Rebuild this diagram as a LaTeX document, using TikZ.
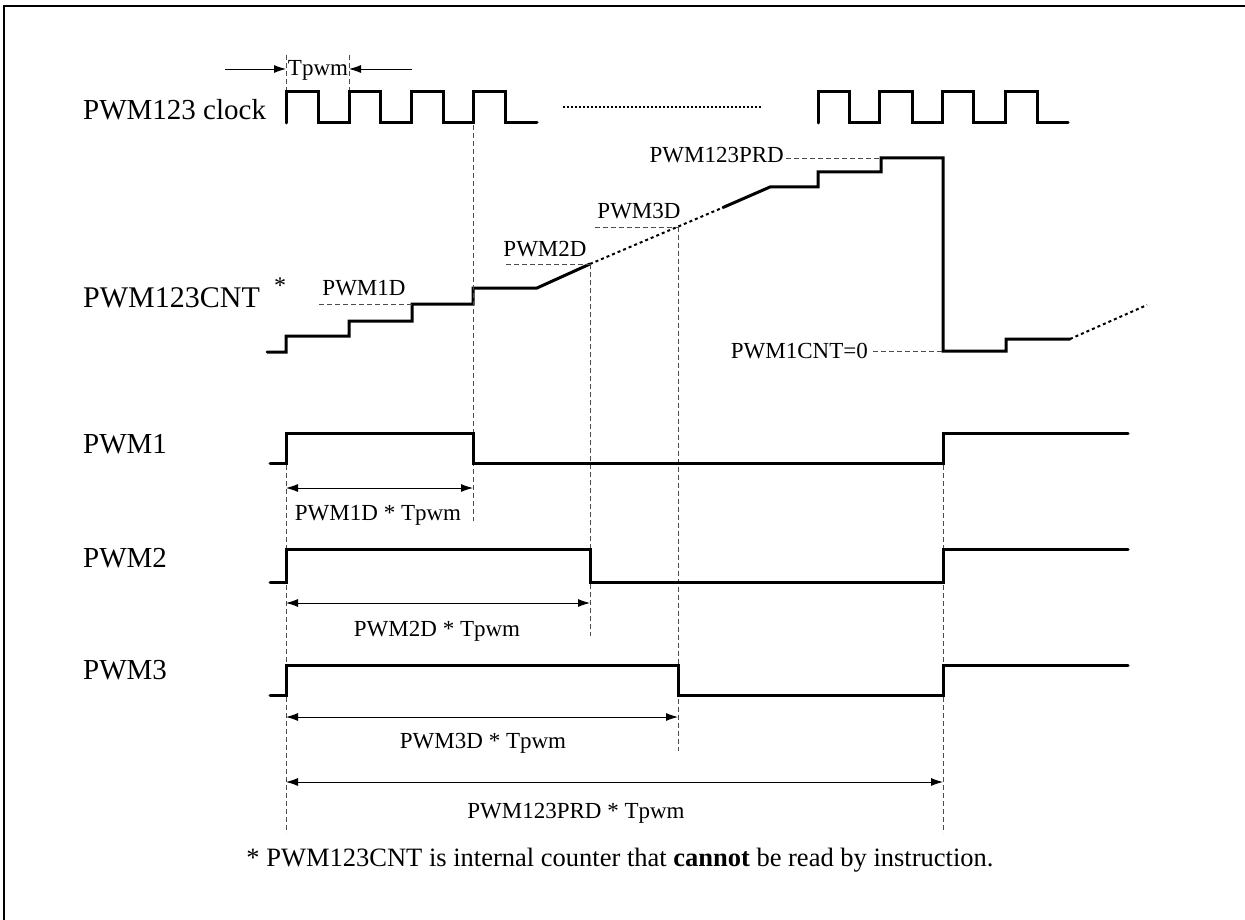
\documentclass[tikz,border=0pt]{standalone}
\usepackage{fontspec}
\setmainfont{Liberation Serif}
\usetikzlibrary{arrows.meta}
\begin{document}
\begin{tikzpicture}[x=1pt,y=-1pt,
  sig/.style={line width=3pt, line join=miter, line cap=round},
  guide/.style={draw=black!70, line width=0.9pt, dash pattern=on 5pt off 3pt},
  dots/.style={line width=2pt, dash pattern=on 3pt off 3pt},
  dim/.style={line width=0.9pt, {Latex[length=12pt,width=8pt]}-{Latex[length=12pt,width=8pt]}},
  onearrow/.style={line width=0.9pt, -{Latex[length=12pt,width=8pt]}},
  big/.style={font=\fontsize{29}{32}\selectfont, inner sep=0pt, anchor=base west},
  small/.style={font=\fontsize{23}{26}\selectfont, inner sep=0pt, anchor=base}
]
\useasboundingbox (0,0) rectangle (1245,920);
\clip (0,0) rectangle (1245,920);
% frame
\draw[line width=2pt] (4,6) rectangle (1270,950);

% labels on the left
\node[big] (lclk) at (83,120) {PWM123 clock};
\node[big, font=\fontsize{30}{33}\selectfont] (lcnt) at (83,307) {PWM123CNT};
\node[font=\fontsize{24}{26}\selectfont, inner sep=0pt] (star) at (280,286) {*};
\node[big] (lp1) at (83,453) {PWM1};
\node[big] (lp2) at (83,567) {PWM2};
\node[big] (lp3) at (83,679) {PWM3};

% clock
\draw[sig] (286,123) -- (286,92) -- (318,92) -- (318,123) -- (349,123) -- (349,92) -- (380,92) -- (380,123) -- (411,123) -- (411,92) -- (443,92) -- (443,123) -- (473,123) -- (473,92) -- (505,92) -- (505,123) -- (537,123);
\draw[sig] (818,123) -- (818,92) -- (849,92) -- (849,123) -- (879,123) -- (879,92) -- (912,92) -- (912,123) -- (942,123) -- (942,92) -- (973,92) -- (973,123) -- (1005,123) -- (1005,92) -- (1037,92) -- (1037,123) -- (1068,123);
\coordinate (gapA) at (563,107);
\coordinate (gapB) at (762,107);
\draw[line width=1.5pt, dash pattern=on 2pt off 2pt] (gapA) -- (gapB);

% Tpwm
\coordinate (t1) at (286,69);
\coordinate (t2) at (349,69);
\coordinate (t1s) at (225,69);
\coordinate (t2s) at (412,69);
\draw[guide] (286,55) -- (286,90);
\draw[guide] (349,55) -- (349,90);
\draw[onearrow] (t1s) -- (t1);
\draw[onearrow] (t2s) -- (t2);
\node[small] (tpwm) at (318,76) {Tpwm};

% counter
\coordinate (c2d) at (590,264);
\coordinate (c3s) at (723,207.5);
\coordinate (c3d) at (678,227);
\coordinate (cprd) at (881,158);
\coordinate (czero) at (943,351);
\coordinate (c1d) at (412,304);
\draw[sig] (267,352) -- (286,352) -- (286,336) -- (349,336) -- (349,321) -- (412,321) -- (c1d) -- (473,304) -- (473,288) -- (537,288) -- (c2d);
\draw[dots] (c2d) -- (c3s);
\draw[sig] (c3s) -- (770,187) -- (818,187) -- (818,172) -- (881,172) -- (cprd) -- (943,158) -- (czero) -- (1006,351) -- (1006,339) -- (1070,339);
\draw[dots] (1070,339) -- (1147,305);

% counter labels and guides
\node[small] (l1d) at (364,295) {PWM1D};
\draw[guide] (319,304) -- (c1d);
\node[small] (l2d) at (545,256) {PWM2D};
\draw[guide] (506,264) -- (c2d);
\node[small] (l3d) at (639,219) {PWM3D};
\draw[guide] (595,227) -- (c3d);
\node[small, anchor=base east] (lprd) at (784,163) {PWM123PRD};
\draw[guide] (lprd.east |- cprd) ++(2,0) -- (cprd);
\node[small, anchor=base east] (lzero) at (868,358) {PWM1CNT=0};
\draw[guide] (873,351) -- (czero);

% vertical guides
\draw[guide] (473,125) -- (473,521);
\draw[guide] (c2d) -- (590,636);
\draw[guide] (c3d) -- (678,751);
\draw[guide] (286,465) -- (286,833);
\draw[guide] (943,465) -- (943,833);

% PWM outputs
\draw[sig] (270,463) -- (286,463) -- (286,433) -- (473,433) -- (473,463) -- (943,463) -- (943,433) -- (1128,433);
\draw[sig] (270,582) -- (286,582) -- (286,549) -- (590,549) -- (590,582) -- (943,582) -- (943,549) -- (1128,549);
\draw[sig] (270,695) -- (286,695) -- (286,665) -- (678,665) -- (678,695) -- (943,695) -- (943,665) -- (1128,665);

% dimension arrows
\coordinate (a1l) at (286,488); \coordinate (a1r) at (473,488);
\coordinate (a2l) at (286,603); \coordinate (a2r) at (590,603);
\coordinate (a3l) at (286,717); \coordinate (a3r) at (678,717);
\coordinate (a4l) at (286,782); \coordinate (a4r) at (943,782);
\draw[dim] (a1l) -- (a1r);
\draw[dim] (a2l) -- (a2r);
\draw[dim] (a3l) -- (a3r);
\draw[dim] (a4l) -- (a4r);
\node[small] (d1) at (378,520) {PWM1D * Tpwm};
\node[small] (d2) at (437,636) {PWM2D * Tpwm};
\node[small] (d3) at (483,748) {PWM3D * Tpwm};
\node[small] (d4) at (576,818) {PWM123PRD * Tpwm};

% footnote
\node[small, font=\fontsize{26.5}{29}\selectfont] (foot) at (620,866) {* PWM123CNT is internal counter that \textbf{cannot} be read by instruction.};
\end{tikzpicture}
\end{document}
